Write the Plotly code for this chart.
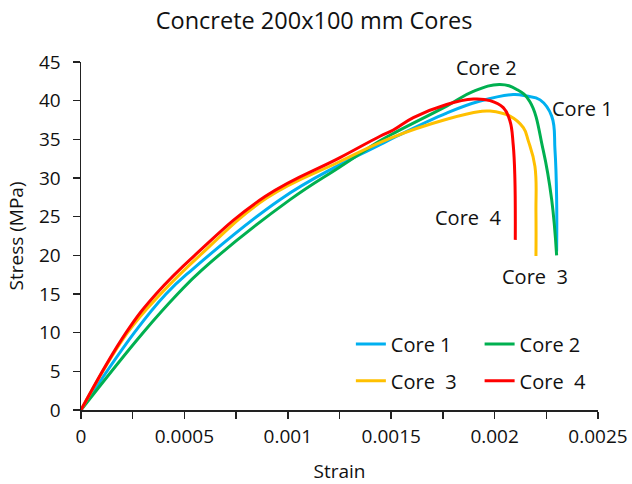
import plotly.graph_objects as go

# ---- data (strain, stress in MPa) ----
core1_strain = [0, 0.000258, 0.000411, 0.000535, 0.000962, 0.00125, 0.001446, 0.001527,
                0.001768, 0.00193, 0.00209, 0.002155, 0.00222, 0.002276, 0.002292, 0.0023, 0.0023]
core1_stress = [0, 10, 15, 18.1, 27.2, 31.7, 34.3, 35.4,
                38.4, 39.95, 40.8, 40.6, 40.1, 38.0, 33.6, 27.2, 20.5]

core2_strain = [0, 0.0003, 0.000467, 0.000584, 0.001011, 0.00125, 0.001446, 0.001527,
                0.001768, 0.001897, 0.002026, 0.002107, 0.00217, 0.002235, 0.002276, 0.0023]
core2_stress = [0, 10, 15, 18.1, 27.2, 31.4, 34.8, 36.0,
                39.3, 41.2, 42.1, 41.45, 39.9, 33.6, 27.2, 20]

core3_strain = [0, 0.000225, 0.000385, 0.000575, 0.000898, 0.00125, 0.0015, 0.001768,
                0.00193, 0.001978, 0.002074, 0.002139, 0.002163, 0.002195, 0.0022, 0.0022]
core3_stress = [0, 10, 15, 20, 27.4, 32.1, 35.2, 37.6,
                38.6, 38.65, 38.0, 36.5, 34.8, 31.5, 25.5, 19.9]

core4_strain = [0, 0.000218, 0.000363, 0.00055, 0.00089, 0.00125, 0.001446, 0.00151,
                0.001607, 0.001768, 0.001897, 0.001978, 0.002042, 0.002074, 0.00209, 0.002098, 0.0021]
core4_stress = [0, 10, 15, 20, 27.6, 32.6, 35.4, 36.2,
                37.8, 39.5, 40.2, 40.0, 39.1, 37.4, 34.3, 30, 22]

series_names = ["Core 1", "Core 2", "Core\u00a0 3", "Core\u00a0 4"]
series_colors = ["#00B0F0", "#00B050", "#FFC000", "#FF0000"]

x_tickvals = [0, 0.0005, 0.001, 0.0015, 0.002, 0.0025]
x_ticktext = ["0", "0.0005", "0.001", "0.0015", "0.002", "0.0025"]
x_minor_tickvals = [0.00025, 0.00075, 0.00125, 0.00175, 0.00225]
y_tickvals = [0, 5, 10, 15, 20, 25, 30, 35, 40, 45]

# curve labels: (text, strain, stress)
labels = [("Core 2", 0.001962, 44.35), ("Core 1", 0.002427, 38.95),
          ("Core\u00a0 4", 0.001871, 24.85), ("Core\u00a0 3", 0.002195, 17.25)]

FONT = "Open Sans"
TXT = "#111"
data = [(core1_strain, core1_stress), (core2_strain, core2_stress),
        (core3_strain, core3_stress), (core4_strain, core4_stress)]
legend_ids = ["legend", "legend2", "legend3", "legend4"]

fig = go.Figure()
for (xs, ys), name, color, lid in zip(data, series_names, series_colors, legend_ids):
    fig.add_trace(go.Scatter(x=xs, y=ys, mode="lines", name=name,
                             line=dict(color=color, width=3, shape="spline", smoothing=1.2),
                             legend=lid, hoverinfo="skip"))

leg_common = dict(bgcolor="rgba(0,0,0,0)", borderwidth=0,
                  font=dict(family=FONT, size=20, color=TXT),
                  xanchor="left", yanchor="middle", itemwidth=30)
fig.update_layout(
    legend=dict(x=0.522, y=0.19, **leg_common),
    legend2=dict(x=0.771, y=0.19, **leg_common),
    legend3=dict(x=0.522, y=0.084, **leg_common),
    legend4=dict(x=0.771, y=0.084, **leg_common),
)

for text, sx, sy in labels:
    fig.add_annotation(x=sx, y=sy, xref="x", yref="y", text=text, showarrow=False,
                       font=dict(family=FONT, size=20, color=TXT))

fig.update_layout(
    width=632, height=484,
    margin=dict(l=81, r=34, t=62, b=74),
    paper_bgcolor="white", plot_bgcolor="white",
    title=dict(text="Concrete 200x100 mm Cores", x=0.497, xanchor="center",
               y=(484 - 21) / 484, yanchor="middle", yref="container",
               font=dict(family=FONT, size=23.5, color=TXT)),
    font=dict(family=FONT, color=TXT),
    showlegend=True,
)
fig.update_xaxes(range=[0, 0.0025], tickvals=x_tickvals, ticktext=x_ticktext, automargin=False,
                 showgrid=False, zeroline=False, showline=True, linecolor="#222", linewidth=1.5,
                 ticks="outside", ticklen=7, tickwidth=1.5, tickcolor="#222",
                 minor=dict(tickvals=x_minor_tickvals,
                            ticks="outside", ticklen=7, tickwidth=1.5, tickcolor="#222"),
                 tickfont=dict(family=FONT, size=19, color=TXT), ticklabelstandoff=2,
                 title=dict(text="Strain", font=dict(family=FONT, size=19, color=TXT), standoff=17))
fig.update_yaxes(range=[0, 45], tickvals=y_tickvals, automargin=False,
                 showgrid=False, zeroline=False, showline=True, linecolor="#222", linewidth=1.5,
                 ticks="outside", ticklen=7, tickwidth=1.5, tickcolor="#222",
                 tickfont=dict(family=FONT, size=19, color=TXT), ticklabelstandoff=8,
                 title=dict(text="Stress (MPa)", font=dict(family=FONT, size=19, color=TXT), standoff=10))

fig.write_html("out.html", config={"displayModeBar": False, "staticPlot": True},
               post_script="document.body.style.margin='0';")
